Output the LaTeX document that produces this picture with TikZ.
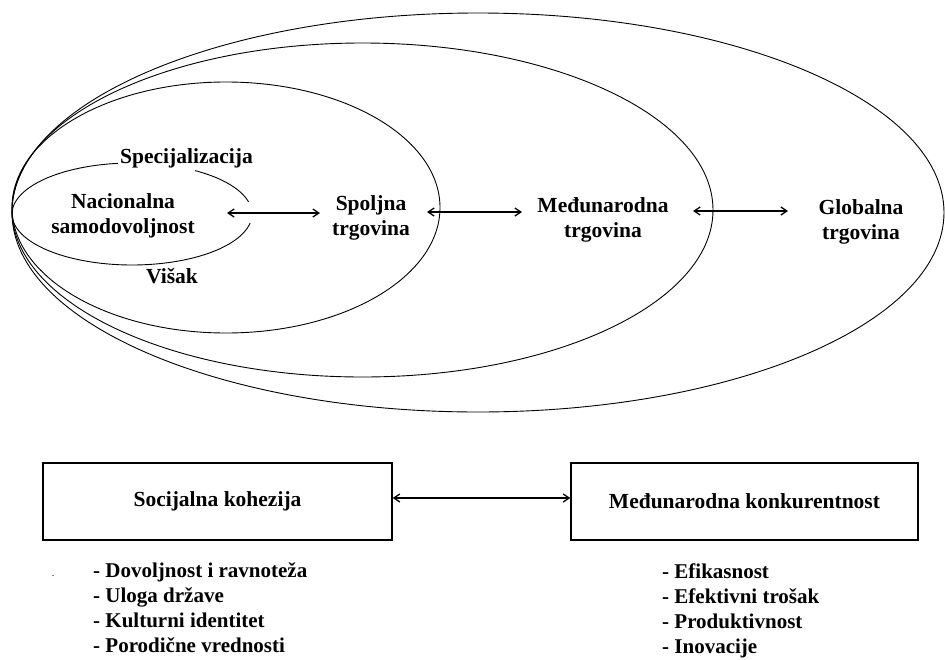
\documentclass[tikz,border=0pt]{standalone}
\usepackage{fontspec}
\setmainfont{Liberation Serif}
\usetikzlibrary{arrows.meta}
\begin{document}
\begin{tikzpicture}[x=1pt,y=-1pt,
  ring/.style={line width=0.9pt},
  lbl/.style={font=\fontsize{21.5}{25}\selectfont\bfseries, inner sep=0pt, align=center},
  lst/.style={font=\fontsize{21}{25}\selectfont\bfseries, inner sep=0pt, align=left, anchor=base west},
  dbl/.style={line width=1.3pt, {Straight Barb[length=6pt,width=8pt]}-{Straight Barb[length=6pt,width=8pt]}},
  box/.style={draw, line width=1.4pt, minimum height=77pt, inner sep=0pt}
]
\useasboundingbox (0,0) rectangle (945,659);

% nested ellipses
\draw[ring] (226,207.5) ellipse [x radius=214, y radius=125.5];
\draw[ring] (362.5,210) ellipse [x radius=350.5, y radius=167];
\draw[ring] (478,212.5) ellipse [x radius=466, y radius=199.5];

% small inner ellipse (Nacionalna samodovoljnost), broken at labels
\draw[ring] plot[domain=180:263.3, samples=40, smooth] ({132+120*cos(\x)}, {214+51*sin(\x)});
\draw[ring] plot[domain=301.7:346.4, samples=30, smooth] ({132+120*cos(\x)}, {214+51*sin(\x)});
\draw[ring] plot[domain=10:180, samples=60, smooth] ({132+120*cos(\x)}, {214+51*sin(\x)});

% labels (base anchor = baseline of last line)
\node[lbl, anchor=base] (nac) at (123,233) {Nacionalna\\samodovoljnost};
\node[lbl, anchor=base] (spo) at (371,235) {Spoljna\\trgovina};
\node[lbl, anchor=base] (med) at (603,237) {Međunarodna\\trgovina};
\node[lbl, anchor=base] (glo) at (861,239) {Globalna\\trgovina};
\node[lbl, anchor=base west] (spec) at (120,163) {Specijalizacija};
\node[lbl, anchor=base] (vis) at (172,283) {Višak};

% arrows between levels
\coordinate (a1l) at (227,213);
\coordinate (a1r) at (320,213);
\coordinate (a2l) at (427,212);
\coordinate (a2r) at (522,212);
\coordinate (a3l) at (693,211);
\coordinate (a3r) at (788,211);
\draw[dbl] (a1l) -- (a1r);
\draw[dbl] (a2l) -- (a2r);
\draw[dbl] (a3l) -- (a3r);

% boxes
\node[box, minimum width=349pt] (b1) at (217.5,501.5) {\fontsize{21.5}{25}\selectfont\bfseries Socijalna kohezija};
\node[box, minimum width=347pt] (b2) at (744.5,501.5) {\fontsize{21.5}{25}\selectfont\bfseries Međunarodna konkurentnost};
\draw[dbl] ([yshift=3.5pt]b1.east) -- ([yshift=3.5pt]b2.west);

% lists
\node[font=\fontsize{10}{12}\selectfont, inner sep=0pt, anchor=base] (dot) at (53,576) {.};
\node[lst] (l1) at (93,652) {- Dovoljnost i ravnoteža\\- Uloga države\\- Kulturni identitet\\- Porodične vrednosti};
\node[lst] (l2) at (662,653) {- Efikasnost\\- Efektivni trošak\\- Produktivnost\\- Inovacije};
\end{tikzpicture}
\end{document}
